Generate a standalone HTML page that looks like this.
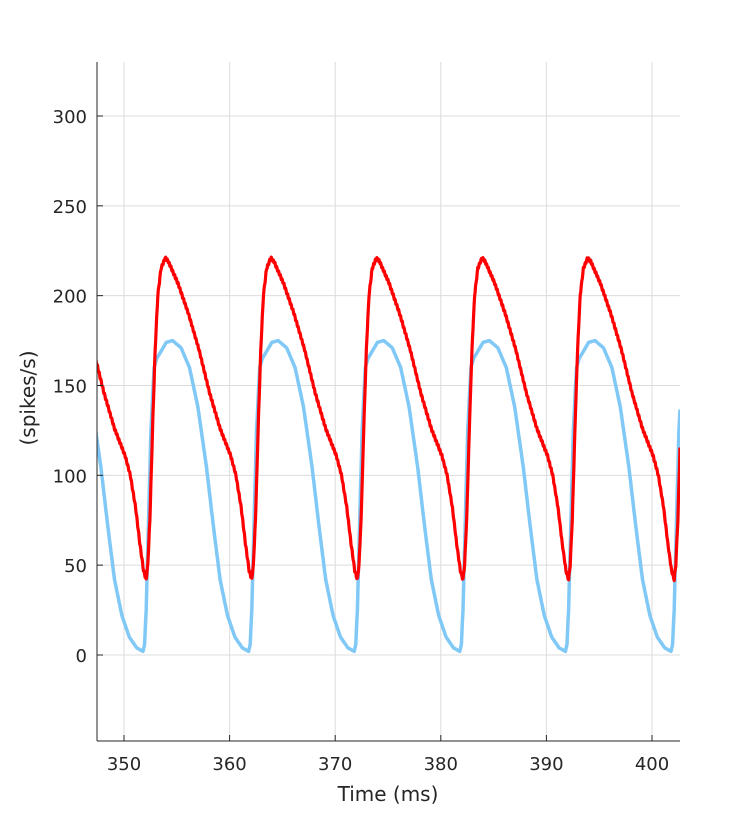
<!DOCTYPE html>
<html><head><meta charset="utf-8"><style>
body{margin:0;background:#fff}
svg text{font-family:"DejaVu Sans","Liberation Sans",sans-serif;fill:#262626;font-size:18px}
</style></head><body>
<svg id="s" width="750" height="833" xmlns="http://www.w3.org/2000/svg">
<defs><clipPath id="c"><rect x="97" y="62" width="583" height="679"/></clipPath></defs>
<g id="grid" stroke="#dcdcdc" stroke-width="1"></g>
<g clip-path="url(#c)">
<path id="blue" fill="none" stroke="#80c8f6" stroke-width="3.5" stroke-linejoin="round"/>
<path id="red" fill="none" stroke="#ff0000" stroke-width="3.2" stroke-linejoin="round"/>
</g>
<line x1="97" y1="62" x2="97" y2="741" stroke="#262626" stroke-width="1"/>
<line x1="97" y1="741" x2="680" y2="741" stroke="#262626" stroke-width="1"/>
<g id="lab"></g>
<text x="388" y="801" text-anchor="middle" style="font-size:20px">Time (ms)</text>
<text transform="translate(35,398) rotate(-90)" text-anchor="middle" style="font-size:20px">(spikes/s)</text>
</svg>
<script>
var X=function(t){return 124+(t-350)*10.56},Y=function(v){return 655-v*1.7967};
var g=document.getElementById('grid'),lab=document.getElementById('lab'),ns='http://www.w3.org/2000/svg';
function el(p,n,a,txt){var e=document.createElementNS(ns,n);for(var k in a)e.setAttribute(k,a[k]);if(txt!=null)e.textContent=txt;p.appendChild(e);return e;}
for(var t=350;t<=400;t+=10){var x=X(t);el(g,'line',{x1:x,y1:62,x2:x,y2:741});el(lab,'line',{x1:x,y1:741,x2:x,y2:735,stroke:'#262626'});el(lab,'text',{x:x,y:770,'text-anchor':'middle'},t);}
for(var v=0;v<=300;v+=50){var y=Y(v);el(g,'line',{x1:97,y1:y,x2:680,y2:y});el(lab,'line',{x1:97,y1:y,x2:103,y2:y,stroke:'#262626'});el(lab,'text',{x:87,y:y+7,'text-anchor':'end'},v);}
function interp(k,p){for(var i=0;i<k.length-1;i++){if(p>=k[i][0]&&p<=k[i+1][0]){var f=(p-k[i][0])/(k[i+1][0]-k[i][0]);return k[i][1]+f*(k[i+1][1]-k[i][1]);}}return k[k.length-1][1];}
var R=[[0,42],[0.15,50],[0.35,75],[0.6,125],[0.85,170],[1.1,200],[1.4,215],[1.8,221],[2.1,219],[3,207],[4,190],[5,170],[6,146],[7,126],[8,111],[8.5,100],[9,82],[9.4,62],[9.75,47],[10,42]];
var B=[[0,2],[0.15,6],[0.3,25],[0.5,70],[0.75,125],[1.05,160],[1.3,165],[1.6,168],[2.2,174],[2.8,175],[3.6,171],[4.4,160],[5.2,138],[6,105],[6.7,70],[7.3,42],[8,22],[8.7,10],[9.4,4],[10,2]];
function path(k,t0,j){var d='';for(var t=347.3;t<=402.7;t+=0.05){var p=((t-t0)%10+10)%10;var v=interp(k,p)+Math.sin(t*37)*j;d+=(d?'L':'M')+X(t).toFixed(1)+','+Y(v).toFixed(1);}return d;}
document.getElementById('red').setAttribute('d',path(R,352.1,0.8));
document.getElementById('blue').setAttribute('d',path(B,351.8,0));
</script>
</body></html>
